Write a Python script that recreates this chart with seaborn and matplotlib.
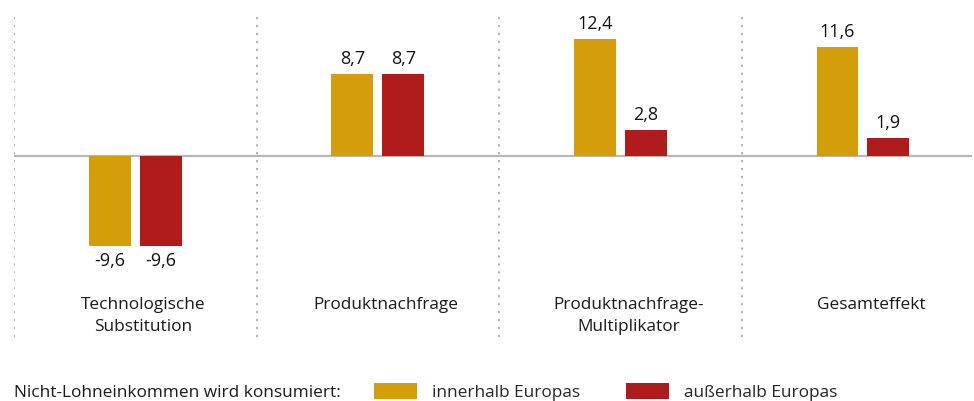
import pandas as pd
import matplotlib.pyplot as plt
import seaborn as sns

# -------------------------
# Data
# -------------------------
categories = ["Technologische Substitution", "Produktnachfrage",
              "Produktnachfrage-Multiplikator", "Gesamteffekt"]
cat_labels = ["Technologische\nSubstitution", "Produktnachfrage",
              "Produktnachfrage-\nMultiplikator", "Gesamteffekt"]
series = ["innerhalb Europas", "außerhalb Europas"]
innerhalb = [-9.6, 8.7, 12.4, 11.6]
ausserhalb = [-9.6, 8.7, 2.8, 1.9]
legend_title = "Nicht-Lohneinkommen wird konsumiert:"

df = pd.DataFrame({"Kategorie": categories,
                   series[0]: innerhalb,
                   series[1]: ausserhalb})
df = df.melt(id_vars="Kategorie", var_name="Konsum", value_name="Wert")

colors = ["#D39E0A", "#B01B1B"]

# -------------------------
# Style
# -------------------------
sns.set_theme(style="white")
plt.rcParams['font.family'] = ['Open Sans', 'DejaVu Sans']
fs = 12.4

fig = plt.figure(figsize=(9.74, 4.01), dpi=100)
W, H = 974, 401
ax = fig.add_axes([14 / W, 1 - 337 / H, (972 - 14) / W, (337 - 15) / H])

sns.barplot(data=df, x="Kategorie", y="Wert", hue="Konsum",
            palette=colors, saturation=1, width=0.42, gap=0.18,
            linewidth=0, ax=ax, legend=True)

ax.set_xlim(-0.5, 3.45)
ax.set_ylim(-19.2, 14.95)
ax.set_xticks([])
ax.set_yticks([])
ax.set_xlabel("")
ax.set_ylabel("")
sns.despine(ax=ax, left=True, bottom=True)

# zero line & separators
ax.axhline(0, color="#b8b8b8", lw=1.6, zorder=0)
for i in range(len(categories)):
    ax.axvline(i - 0.5, color="#ababab", lw=1.3, ls=(0, (1.2, 3.2)), zorder=0)

# value labels
for cont in ax.containers:
    ax.bar_label(cont, labels=[f"{v:.1f}".replace(".", ",") for v in cont.datavalues],
                 padding=4, fontsize=13, color="#111111")

# category labels (slightly right of the bar group, like the original)
for i, lab in enumerate(cat_labels):
    ax.text(i + 0.033, -14.95, lab, ha="center", va="top", fontsize=fs,
            color="#1a1a1a", linespacing=1.5)

# legend
handles, labels = ax.get_legend_handles_labels()
ax.get_legend().remove()
fig.text(14 / W, 1 - 393 / H, legend_title, ha="left", va="center",
         fontsize=fs, color="#1a1a1a")
fig.legend(handles, labels, loc="center left",
           bbox_to_anchor=(367 / W, 1 - 392 / H), ncol=2, frameon=False,
           fontsize=fs, handlelength=2.5, handleheight=1.05,
           handletextpad=0.85, columnspacing=2.7, borderaxespad=0)

fig.savefig("out.png", dpi=100, facecolor="white")
